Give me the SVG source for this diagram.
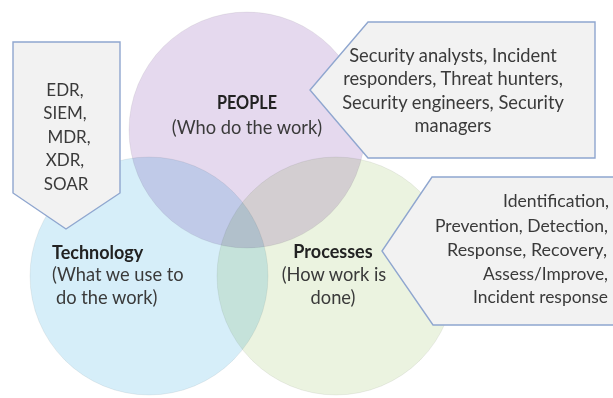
<svg xmlns="http://www.w3.org/2000/svg" width="613" height="398" viewBox="0 0 613 398">
  <style>
    .circle { mix-blend-mode: multiply; stroke: #000; stroke-opacity: 0.06; stroke-width: 1; }
    .callout { fill: #f2f2f2; stroke: #8fa6cf; stroke-width: 1.4; stroke-linejoin: miter; }
    .txt { font-family: Lato, "Open Sans", "Liberation Sans", sans-serif; font-size: 18.3px; fill: #3a3a3a; }
    .small { font-size: 17px; }
    .phase { font-size: 17.5px; }
    .head { font-weight: bold; fill: #222; font-size: 18px; }
    .mid { text-anchor: middle; }
  </style>
  <rect width="613" height="398" fill="#ffffff"/>

  <!-- Venn circles, blended so overlaps darken -->
  <g id="circles">
    <circle id="people" class="circle" cx="247" cy="130" r="118" fill="#e5d9ee"/>
    <circle id="technology" class="circle" cx="149" cy="276" r="119" fill="#d6eef9"/>
    <circle id="processes" class="circle" cx="336" cy="276" r="119" fill="#ebf3e0"/>
  </g>

  <!-- Down-pointing callout with tool list -->
  <g id="tools-callout">
    <polygon class="callout" points="13,42 120,42 120,193 66,229 13,193"/>
    <text class="txt small mid" x="65" y="96">EDR,</text>
    <text class="txt small mid" x="65" y="119">SIEM,</text>
    <text class="txt small mid" x="69" y="143">MDR,</text>
    <text class="txt small mid" x="65" y="166">XDR,</text>
    <text class="txt small mid" x="66" y="190">SOAR</text>
  </g>

  <!-- Left-pointing callout with roles -->
  <g id="roles-callout">
    <polygon class="callout" points="368,22 595,22 595,158 368,158 310,90"/>
    <text class="txt mid" x="453" y="62">Security analysts, Incident</text>
    <text class="txt mid" x="453" y="85">responders, Threat hunters,</text>
    <text class="txt mid" x="453" y="109">Security engineers, Security</text>
    <text class="txt mid" x="453" y="132">managers</text>
  </g>

  <!-- Left-pointing callout with process phases (runs off the right edge) -->
  <g id="phases-callout">
    <polygon class="callout" points="432,177 650,177 650,325 433,325 382,251"/>
    <text class="txt phase" x="503" y="207" textLength="106" lengthAdjust="spacingAndGlyphs">Identification,</text>
    <text class="txt phase" x="435" y="232" textLength="173" lengthAdjust="spacingAndGlyphs">Prevention, Detection,</text>
    <text class="txt phase" x="447" y="256" textLength="160" lengthAdjust="spacingAndGlyphs">Response, Recovery,</text>
    <text class="txt phase" x="483" y="280" textLength="125" lengthAdjust="spacingAndGlyphs">Assess/Improve,</text>
    <text class="txt phase" x="473" y="303" textLength="135" lengthAdjust="spacingAndGlyphs">Incident response</text>
  </g>

  <!-- Circle labels -->
  <g id="people-label">
    <text class="txt head mid" x="247" y="109" textLength="60" lengthAdjust="spacingAndGlyphs">PEOPLE</text>
    <text class="txt mid" x="247" y="134">(Who do the work)</text>
  </g>
  <g id="technology-label">
    <text class="txt head" x="52" y="259">Technology</text>
    <text class="txt" x="52" y="281">(What we use to</text>
    <text class="txt" x="56" y="304">do the work)</text>
  </g>
  <g id="processes-label">
    <text class="txt head mid" x="333" y="258">Processes</text>
    <text class="txt mid" x="334" y="281">(How work is</text>
    <text class="txt mid" x="333" y="304">done)</text>
  </g>
</svg>
